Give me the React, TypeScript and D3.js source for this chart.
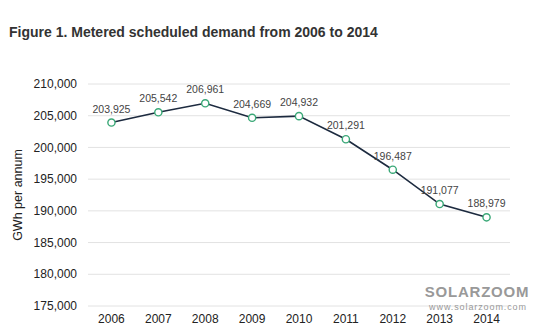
import React from "react";
import * as d3 from "d3";

const years = ["2006", "2007", "2008", "2009", "2010", "2011", "2012", "2013", "2014"];
const demand = [203925, 205542, 206961, 204669, 204932, 201291, 196487, 191077, 188979];
const yTicks = [175000, 180000, 185000, 190000, 195000, 200000, 205000, 210000];

const W = 557, H = 336;
const left = 88, right = 510, top = 84, bottom = 306;

export default function App() {
  const x = d3.scalePoint<string>().domain(years).range([left, right]).padding(0.5);
  const y = d3.scaleLinear().domain([175000, 210000]).range([bottom, top]);
  const fmt = d3.format(",");
  const line = d3.line<number>().x((_, i) => x(years[i])!).y((d) => y(d));
  const font = "Liberation Sans, Arial, sans-serif";
  return (
    <svg width={W} height={H} style={{ position: "absolute", left: 0, top: 0, background: "#fff" }} fontFamily={font}>
      <text x={9} y={37} fontSize={14} fontWeight="bold" fill="#333">Figure 1. Metered scheduled demand from 2006 to 2014</text>
      {yTicks.map((t) => (
        <g key={t}>
          <line x1={left} x2={right} y1={y(t)} y2={y(t)} stroke="#e2e2e2" strokeWidth={1} />
          <text x={77} y={y(t)} dy="0.35em" textAnchor="end" fontSize={12} fill="#222">{fmt(t)}</text>
        </g>
      ))}
      <text transform={`translate(18,${(top + bottom) / 2}) rotate(-90)`} textAnchor="middle" fontSize={12.5} fill="#222" dy="0.35em">GWh per annum</text>
      {years.map((yr) => (
        <text key={yr} x={x(yr)} y={323} textAnchor="middle" fontSize={12} fill="#222">{yr}</text>
      ))}
      <path d={line(demand) || ""} fill="none" stroke="#1c2a3f" strokeWidth={1.6} />
      {demand.map((d, i) => (
        <g key={i}>
          <circle cx={x(years[i])} cy={y(d)} r={3.6} fill="#fff" stroke="#3aa877" strokeWidth={1.4} />
          <text x={x(years[i])} y={y(d) - 10} textAnchor="middle" fontSize={10.5} fill="#444">{fmt(d)}</text>
        </g>
      ))}
      <text x={477} y={297} textAnchor="middle" fontSize={15} fontWeight="bold" fill="#999" letterSpacing={0.8}>SOLARZOOM</text>
      <text x={478} y={310} textAnchor="middle" fontSize={9} fill="#999" letterSpacing={0.9}>www.solarzoom.com</text>
    </svg>
  );
}
